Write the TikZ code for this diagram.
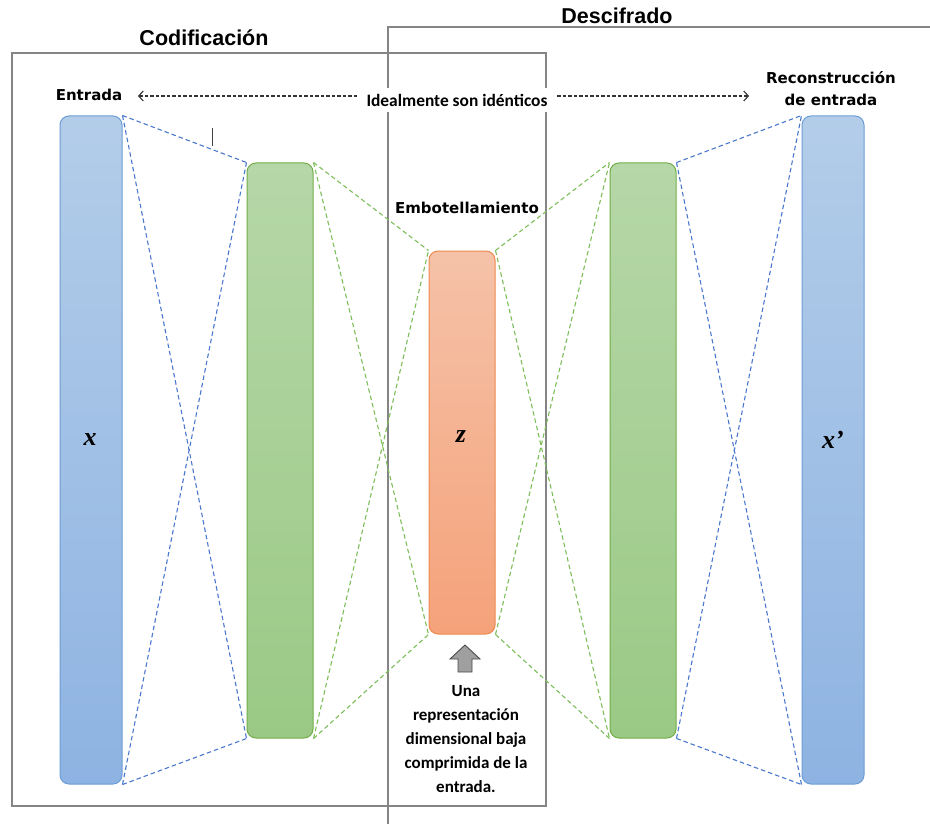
\documentclass[tikz,border=0pt]{standalone}
\usepackage{fontspec}
\usetikzlibrary{arrows.meta}
\setmainfont{Liberation Serif}
\newfontfamily\headfont{Liberation Sans Bold}
\newfontfamily\labelfont{DejaVu Sans Bold}
\newfontfamily\calib{Carlito}
\definecolor{bluetop}{HTML}{B3CDE9}
\definecolor{bluebot}{HTML}{8EB3E2}
\definecolor{blueedge}{HTML}{6C9DD6}
\definecolor{bluedash}{HTML}{4A78CC}
\definecolor{greentop}{HTML}{B6D7A8}
\definecolor{greenbot}{HTML}{9AC985}
\definecolor{greenedge}{HTML}{71AE48}
\definecolor{greendash}{HTML}{7DBE5A}
\definecolor{orangetop}{HTML}{F5C2A8}
\definecolor{orangebot}{HTML}{F5A27A}
\definecolor{orangeedge}{HTML}{EE8A4F}
\definecolor{framegray}{HTML}{858585}
\tikzset{
  bar/.style={draw, line width=1pt, rounded corners=9pt, inner sep=0pt},
  bluebar/.style={bar, draw=blueedge, top color=bluetop, bottom color=bluebot, minimum width=62pt, minimum height=668pt},
  greenbar/.style={bar, draw=greenedge, top color=greentop, bottom color=greenbot, minimum width=66pt, minimum height=575pt},
  orangebar/.style={bar, draw=orangeedge, top color=orangetop, bottom color=orangebot, minimum width=66pt, minimum height=383pt},
  bluelink/.style={draw=bluedash, line width=1.1pt, dash pattern=on 4.5pt off 3pt},
  greenlink/.style={draw=greendash, line width=1.1pt, dash pattern=on 4.5pt off 3pt},
  frame/.style={draw=framegray, line width=1.1pt},
  title/.style={font=\headfont\fontsize{21.5}{24}\selectfont, inner sep=0pt},
  label/.style={font=\labelfont\fontsize{15}{22}\selectfont, inner sep=0pt, align=center},
  note/.style={font=\calib\bfseries\fontsize{17}{24}\selectfont, inner sep=0pt, align=center},
  var/.style={font=\bfseries\itshape\fontsize{26}{28}\selectfont, inner sep=0pt},
  hint/.style={draw=black!80, line width=1.1pt, dash pattern=on 3.5pt off 2pt,
    -{Straight Barb[length=4.5pt,width=10pt,line width=1.1pt]}},
}
\begin{document}
\begin{tikzpicture}[x=1pt,y=-1pt]
\useasboundingbox[fill=white] (0,0) rectangle (930,824);

% section frames
\draw[frame] (12,53) rectangle (546,806);
\draw[frame] (388,824) -- (388,27) -- (930,27);
\node[title] (cod) at (204,38) {Codificación};
\node[title] (desc) at (617,16) {Descifrado};

% layers
\node[bluebar] (in) at (91,450) {};
\node[greenbar] (enc) at (280,450.5) {};
\node[orangebar] (code) at (462,442.5) {};
\node[greenbar] (dec) at (643,450.5) {};
\node[bluebar] (out) at (833,450) {};

% dense connections between layers
\draw[bluelink] (in.north east) -- (enc.north west);
\draw[bluelink] (in.north east) -- (enc.south west);
\draw[bluelink] (in.south east) -- (enc.north west);
\draw[bluelink] (in.south east) -- (enc.south west);
\draw[greenlink] (enc.north east) -- (code.north west);
\draw[greenlink] (enc.north east) -- (code.south west);
\draw[greenlink] (enc.south east) -- (code.north west);
\draw[greenlink] (enc.south east) -- (code.south west);
\draw[greenlink] (code.north east) -- (dec.north west);
\draw[greenlink] (code.north east) -- (dec.south west);
\draw[greenlink] (code.south east) -- (dec.north west);
\draw[greenlink] (code.south east) -- (dec.south west);
\draw[bluelink] (dec.north east) -- (out.north west);
\draw[bluelink] (dec.north east) -- (out.south west);
\draw[bluelink] (dec.south east) -- (out.north west);
\draw[bluelink] (dec.south east) -- (out.south west);

% variables
\node[var] (xin) at (90,440) {x};
\node[var] (zc) at (461,437) {z};
\node[var] (xout) at (833,440) {x’};

% labels
\node[label] (entrada) at (89,95) {Entrada};
\node[label] (recon) at (831,89) {Reconstrucción\\de entrada};
\node[label] (bottle) at (467,208) {Embotellamiento};
\node[font=\calib\bfseries\fontsize{17.4}{19}\selectfont, fill=white, inner xsep=2pt, inner ysep=6pt] (ideal) at (457,100) {Idealmente son idénticos};
\coordinate (la) at (138,96);
\coordinate (ra) at (749,96);
\draw[hint] (357,96) -- (la);
\draw[hint] (557,96) -- (ra);

% stray tick mark
\draw[black!75, line width=1pt] (212,128) -- (212,146);

% pointer to the code layer
\draw[fill=gray!75, draw=black!70, line width=0.9pt]
  (465,645) -- (480,659) -- (472,659) -- (472,672) -- (458,672) -- (458,659) -- (450,659) -- cycle;
\node[note] (desc2) at (466,739) {Una\\representación\\dimensional baja\\comprimida de la\\entrada.};
\end{tikzpicture}
\end{document}
